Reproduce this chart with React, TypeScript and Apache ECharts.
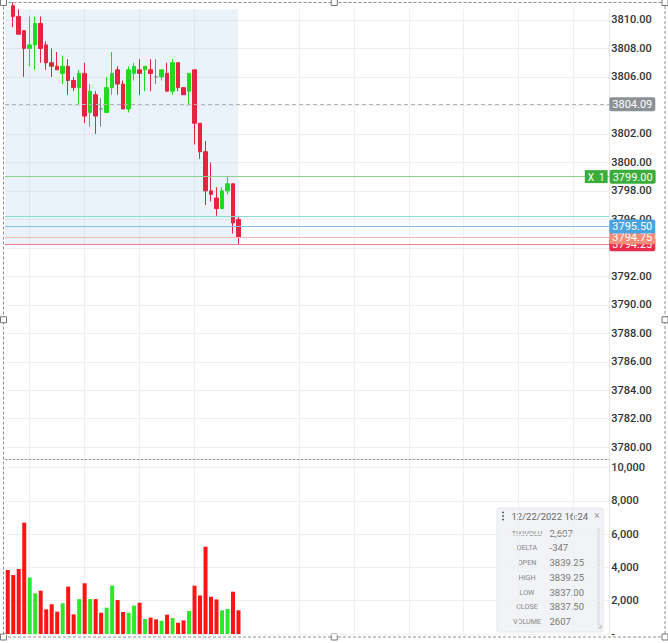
import React, { useEffect, useRef } from "react";
import * as echarts from "echarts";

// ---------- data ----------
const SLOT_COUNT = 110;
const CATEGORIES: string[] = Array.from({ length: SLOT_COUNT }, (_, i) => String(i));

const OPEN = [
  3811.5, 3811.0, 3810.25, 3809.25, 3808.0, 3808.25, 3809.75, 3808.25, 3807.0, 3806.75,
  3806.25, 3806.75, 3805.75, 3805.25, 3806.25, 3803.5, 3804.75, 3803.75, 3803.5, 3805.25,
  3806.5, 3805.5, 3803.75, 3806.25, 3806.5, 3806.5, 3806.5, 3806.0, 3806.0, 3806.25,
  3805.0, 3807.0, 3805.25, 3805.0, 3806.5, 3802.75, 3800.75, 3798.0, 3797.5, 3796.75,
  3798.0, 3798.5, 3796.0,
];
const CLOSE = [
  3811.25, 3810.25, 3809.0, 3808.0, 3808.25, 3809.75, 3808.0, 3807.0, 3806.75, 3806.5,
  3806.75, 3805.75, 3805.25, 3806.25, 3803.25, 3805.0, 3803.25, 3803.75, 3805.25, 3806.25,
  3805.5, 3803.75, 3806.5, 3806.75, 3806.25, 3806.75, 3806.25, 3806.0, 3806.5, 3805.0,
  3807.0, 3805.25, 3804.75, 3806.25, 3802.75, 3800.75, 3798.0, 3797.75, 3796.75, 3798.0,
  3798.5, 3795.75, 3794.75,
];
const LOW = [
  3811.0, 3809.5, 3809.0, 3806.0, 3806.75, 3806.5, 3807.0, 3806.5, 3806.0, 3806.5,
  3805.5, 3804.75, 3805.0, 3804.0, 3802.75, 3802.5, 3802.0, 3802.5, 3803.5, 3804.75,
  3804.75, 3803.75, 3803.5, 3805.75, 3804.75, 3805.0, 3805.0, 3805.5, 3805.75, 3805.0,
  3804.75, 3805.0, 3804.75, 3804.0, 3801.25, 3800.25, 3797.0, 3797.25, 3796.25, 3796.75,
  3797.75, 3795.0, 3794.25,
];
const HIGH = [
  3812.25, 3811.25, 3810.75, 3809.25, 3810.25, 3810.25, 3810.25, 3808.5, 3808.0, 3807.75,
  3807.5, 3807.25, 3806.0, 3806.5, 3807.0, 3805.5, 3805.0, 3804.5, 3806.0, 3807.75,
  3806.75, 3805.75, 3806.75, 3807.0, 3807.25, 3806.75, 3807.25, 3807.25, 3806.5, 3807.0,
  3807.25, 3807.0, 3805.25, 3806.25, 3806.5, 3802.75, 3801.5, 3800.0, 3798.25, 3798.25,
  3799.0, 3798.5, 3796.25,
];
const VOLUME = [
  3850, 3545, 3910, 6700, 3395, 2445, 2605, 1485, 1790, 1345,
  1850, 2850, 1180, 2100, 3050, 2100, 2100, 1280, 1585, 2910,
  2040, 1325, 1280, 1705, 1880, 900, 980, 880, 800, 1160,
  960, 675, 820, 1385, 2910, 2320, 5250, 2240, 2080, 1425,
  1505, 2545, 1425,
];
const VOLUME_DIR = [
  "d", "d", "d", "d", "u", "u", "d", "d", "d", "d",
  "u", "d", "d", "u", "d", "u", "d", "d", "u", "u",
  "d", "d", "u", "u", "d", "u", "d", "d", "u", "d",
  "u", "d", "d", "u", "d", "d", "d", "d", "d", "u",
  "u", "d", "d",
];

const PRICE_TICKS = [3780, 3782, 3784, 3786, 3788, 3790, 3792, 3794, 3796, 3798, 3800, 3802, 3804, 3806, 3808, 3810];
const VOLUME_TICKS = [0, 2000, 4000, 6000, 8000, 10000];
const V_GRID_IDX = [4, 14, 24, 34, 53, 63, 73, 83, 93, 103];

const PRICE_MIN = 3779.15;
const PRICE_MAX = 3810.75;
const VOLUME_MAX = 10508;

// price levels (drawn in this order; later ones on top)
const LEVEL_VALUES = [3804.09, 3799.0, 3796.25, 3794.25, 3794.75, 3795.5];
const LEVEL_KIND = ["last", "order", "plain", "low", "bid", "ask"];
const ORDER_QTY = "X  1";

const TIP_TIME = "12/22/2022 16:24";
const TIP_LABELS = ["TIKIVOLU", "DELTA", "OPEN", "HIGH", "LOW", "CLOSE", "VOLUME"];
const TIP_VALUES = ["2,607", "-347", "3839.25", "3839.25", "3837.00", "3837.50", "2607"];

// ---------- styles ----------
const FONT = "Roboto, 'Noto Sans', 'DejaVu Sans', sans-serif";
const UP = "#22d922";
const DOWN = "#e6243f";
const DOJI = "#7b838c";
const V_UP = "#2ee62e";
const V_DOWN = "#ff1414";

const LEVEL_STYLES: Record<string, { line: string; bg: string; dashed?: boolean; hideLabel?: boolean }> = {
  last: { line: "#b4b4b4", bg: "#8c9196", dashed: true },
  order: { line: "#8fcf8f", bg: "#3aad3a" },
  plain: { line: "#86ddd2", bg: "#86ddd2", hideLabel: true },
  low: { line: "#f27a92", bg: "#ea2d4d" },
  bid: { line: "#f6b9b4", bg: "#f58d7b" },
  ask: { line: "#86bfe8", bg: "#4aa3e0" },
};

function buildOption() {
  const candles = OPEN.map((o, i) => [o, CLOSE[i], LOW[i], HIGH[i]]);
  const minLow = Math.min(...LOW);
  const lastIdx = OPEN.length - 1;

  const markLineData = LEVEL_VALUES.map((v, i) => {
    const s = LEVEL_STYLES[LEVEL_KIND[i]];
    const base: any = {
      yAxis: v,
      lineStyle: { color: s.line, width: 1, type: s.dashed ? [4, 3] : "solid" },
    };
    if (s.hideLabel) {
      base.label = { show: false };
    } else if (LEVEL_KIND[i] === "order") {
      base.label = {
        show: true,
        position: "end",
        distance: 0,
        offset: [-24.5, 0],
        formatter: () => `{x|${ORDER_QTY}}{g|}{p|${v.toFixed(2)}}`,
        rich: {
          x: { backgroundColor: s.bg, color: "#fff", fontSize: 10, fontFamily: FONT, padding: [2, 3, 1, 3] },
          g: { width: 2 },
          p: { backgroundColor: s.bg, color: "#fff", fontSize: 11, fontFamily: FONT, padding: [2, 3, 1, 3], borderRadius: 2 },
        },
      };
    } else {
      base.label = {
        show: true,
        position: "end",
        distance: 0,
        formatter: () => v.toFixed(2),
        color: "#fff",
        fontSize: 11,
        fontFamily: FONT,
        backgroundColor: s.bg,
        padding: [2, 3, 1, 3],
        borderRadius: 2,
      };
    }
    return base;
  });

  const axisLabelBase = { color: "#333", fontSize: 11, fontFamily: FONT, fontWeight: 500, margin: 2 };

  const xAxisFor = (g: number) => ({
    type: "category",
    gridIndex: g,
    data: CATEGORIES,
    boundaryGap: true,
    axisLabel: { show: false },
    axisTick: { show: false },
    axisLine: g === 0 ? { show: true, lineStyle: { color: "#9a9a9a", type: [2, 2], width: 1 } } : { show: false },
    splitLine: {
      show: true,
      interval: (idx: number) => V_GRID_IDX.includes(idx),
      alignWithLabel: true,
      lineStyle: { color: "#eeeeee", width: 1 },
    },
  });

  // tooltip box
  const tipX = 497, tipY = 508, tipW = 106, tipH = 124;
  const txt = (x: number, y: number, text: string, fill: string, size: number, align: string, extra: any = {}) => ({
    type: "text",
    x,
    y,
    style: { text, fill, fontSize: size, fontFamily: FONT, align, textAlign: align, verticalAlign: "middle", textVerticalAlign: "middle", ...extra },
  });
  const tipEls: any[] = [
    { type: "rect", shape: { x: tipX, y: tipY, width: tipW, height: tipH, r: 2 }, style: { fill: "rgba(241,243,246,0.96)", stroke: "#e4e6ea", lineWidth: 1 } },
    ...[4.5, 8, 11.5].map((dy) => ({ type: "circle", shape: { cx: tipX + 6, cy: tipY + dy, r: 0.9 }, style: { fill: "#555" } })),
    txt(tipX + 14.5, tipY + 8, TIP_TIME, "#666", 9.5, "left"),
    txt(tipX + 100, tipY + 7.5, "×", "#999", 10, "center"),
    { type: "rect", shape: { x: tipX + 100, y: tipY + 20, width: 3, height: 98 }, style: { fill: "#e3e5e9" } },
    { type: "polyline", shape: { points: [[tipX + 101, tipY + 120], [tipX + 104, tipY + 120], [tipX + 104, tipY + 117]] }, style: { stroke: "#a0a0a0", lineWidth: 0.8, fill: "none" } },
  ];
  TIP_LABELS.forEach((lab, i) => {
    const y = tipY + 25.2 + i * 14.7;
    tipEls.push(txt(tipX + 30, y, lab, "#858585", 7.2, "center"));
    tipEls.push(txt(tipX + 52.5, y, TIP_VALUES[i], "#787878", 9.5, "left"));
  });

  // outer dashed selection frame and handles
  const frame = { x: 3.5, y: 2.5, w: 661.5, h: 634.5 };
  const handlePts = [
    [frame.x, frame.y], [frame.x + frame.w / 2, frame.y], [frame.x + frame.w, frame.y],
    [frame.x, frame.y + frame.h / 2], [frame.x + frame.w, frame.y + frame.h / 2],
    [frame.x, frame.y + frame.h], [frame.x + frame.w / 2, frame.y + frame.h], [frame.x + frame.w, frame.y + frame.h],
  ];
  const frameEls: any[] = [
    { type: "rect", shape: { x: frame.x, y: frame.y, width: frame.w, height: frame.h }, style: { fill: "none", stroke: "#8e8e8e", lineWidth: 1, lineDash: [3, 2] } },
    ...handlePts.map(([hx, hy]) => ({ type: "rect", shape: { x: hx - 3, y: hy - 3, width: 6, height: 6 }, style: { fill: "#fff", stroke: "#777", lineWidth: 1 } })),
  ];

  return {
    animation: false,
    backgroundColor: "#ffffff",
    grid: [
      { left: 5, top: 9.3, width: 604.3, height: 450 },
      { left: 5, top: 459.3, width: 604.3, height: 174.7 },
    ],
    xAxis: [xAxisFor(0), xAxisFor(1)],
    yAxis: [
      {
        type: "value",
        gridIndex: 0,
        position: "right",
        min: PRICE_MIN,
        max: PRICE_MAX,
        scale: true,
        axisLine: { show: true, lineStyle: { color: "#e6e6e6" } },
        axisTick: { show: false, customValues: PRICE_TICKS },
        axisLabel: { ...axisLabelBase, customValues: PRICE_TICKS, formatter: (v: number) => v.toFixed(2) },
        splitLine: { show: true, lineStyle: { color: "#f0f0f0" } },
      },
      {
        type: "value",
        gridIndex: 1,
        position: "right",
        min: 0,
        max: VOLUME_MAX,
        axisLine: { show: true, lineStyle: { color: "#e6e6e6" } },
        axisTick: { show: false, customValues: VOLUME_TICKS },
        axisLabel: { ...axisLabelBase, customValues: VOLUME_TICKS, formatter: (v: number) => (v === 0 ? "-" : v.toLocaleString("en-US")) },
        splitLine: { show: true, lineStyle: { color: "#f0f0f0" } },
      },
    ],
    series: [
      {
        type: "candlestick",
        xAxisIndex: 0,
        yAxisIndex: 0,
        data: candles,
        barWidth: 4,
        clip: true,
        itemStyle: {
          color: UP,
          color0: DOWN,
          borderColor: UP,
          borderColor0: DOWN,
          borderColorDoji: DOJI,
          borderWidth: 1,
        },
        markArea: {
          silent: true,
          itemStyle: { color: "rgba(170, 204, 234, 0.24)" },
          data: [[{ xAxis: -Infinity, yAxis: PRICE_MAX }, { xAxis: lastIdx, yAxis: minLow }]],
        },
        markLine: {
          silent: true,
          symbol: ["none", "none"],
          precision: 2,
          data: markLineData,
        },
      },
      {
        type: "bar",
        xAxisIndex: 1,
        yAxisIndex: 1,
        barWidth: 4,
        data: VOLUME.map((v, i) => ({ value: v, itemStyle: { color: VOLUME_DIR[i] === "u" ? V_UP : V_DOWN } })),
      },
    ],
    graphic: [
      { type: "group", z: 100, silent: true, children: tipEls },
      { type: "group", z: 110, silent: true, children: frameEls },
    ],
  };
}

export default function App() {
  const ref = useRef<HTMLDivElement>(null);
  useEffect(() => {
    if (!ref.current) return;
    const chart = echarts.init(ref.current, undefined, { renderer: "svg" });
    chart.setOption(buildOption() as any);
    return () => chart.dispose();
  }, []);
  return (
    <div
      ref={ref}
      style={{ position: "fixed", left: 0, top: 0, width: 668, height: 643, background: "#fff" }}
    />
  );
}
